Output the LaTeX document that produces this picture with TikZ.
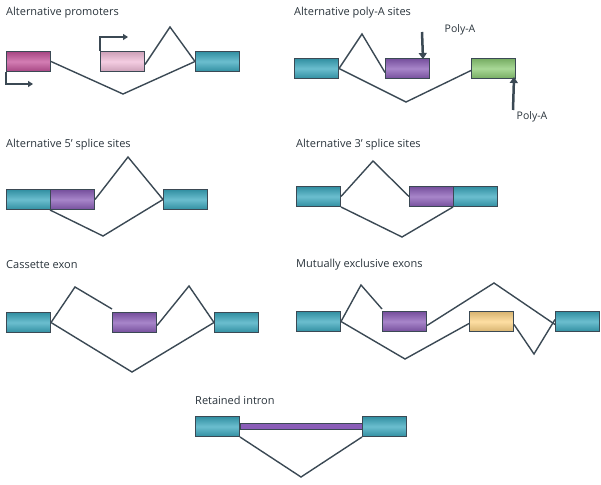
\documentclass[tikz,border=0pt]{standalone}
\usepackage{fontspec}
\setmainfont{Open Sans}
\usetikzlibrary{arrows.meta}
\definecolor{teal}{HTML}{3AA8BE}
\definecolor{mag}{HTML}{C4529A}
\definecolor{lpink}{HTML}{F0BCD8}
\definecolor{purp}{HTML}{8A5DB8}
\definecolor{grn}{HTML}{8CCB74}
\definecolor{yel}{HTML}{FDD384}
\definecolor{ln}{HTML}{3B4954}
\begin{document}
\begin{tikzpicture}[x=1pt,y=-1pt,
  box/.style={draw=ln,line width=1pt,minimum width=44pt,minimum height=20pt,inner sep=0pt,anchor=north west,
    top color=#1!85!black,bottom color=#1!85!black,middle color=#1!75!white},
  link/.style={draw=ln,line width=1.4pt,line join=miter},
  ttl/.style={anchor=west,font=\fontsize{11}{13}\selectfont,text=ln!70!black,inner sep=0pt},
  lab/.style={font=\fontsize{10.5}{12}\selectfont,text=ln!70!black,inner sep=0pt},
  arr/.style={draw=ln,line width=1.4pt,-{Triangle[length=5pt,width=6pt]}},
  fat/.style={draw=ln,line width=2.5pt,-{Triangle[length=6pt,width=8pt]}}]
\useasboundingbox (0,0) rectangle (601,484);
% Panel 1
\node[ttl] (t1) at (6,13) {Alternative promoters};
\node[box=mag] (a1) at (6,51) {};
\node[box=lpink] (a2) at (100,51) {};
\node[box=teal] (a3) at (195,51) {};
\coordinate (a1b) at (123,94);
\coordinate (a1p) at (170,27);
\draw[link] (a1.east) -- (a1b) -- (a3.west);
\draw[link] ([yshift=-3pt]a2.east) -- (a1p) -- (a3.west);
\coordinate (pr1) at (128,37);
\coordinate (pr2) at (33,84);
\draw[arr] (a2.north west) |- (pr1);
\draw[arr] (a1.south west) |- (pr2);
% Panel 2
\node[ttl] (t2) at (294,13) {Alternative poly-A sites};
\node[box=teal] (b1) at (294,58) {};
\node[box=purp] (b2) at (385,58) {};
\node[box=grn] (b3) at (471,58) {};
\coordinate (b1p) at (362,34);
\coordinate (b1b) at (406,102);
\draw[link] (b1.east) -- (b1p) -- ([yshift=-4pt]b2.west);
\draw[link] (b1.east) -- (b1b) -- ([yshift=-2pt]b3.west);
\node[lab] (pa1) at (460,30) {Poly-A};
\node[lab] (pa2) at (532,117) {Poly-A};
\coordinate (pa1s) at (422,32);
\coordinate (pa2s) at (513,110);
\draw[fat] (pa1s) -- ([xshift=-7pt,yshift=-1pt]b2.north east);
\draw[fat] (pa2s) -- ([xshift=-2pt,yshift=2pt]b3.south east);
% Panel 3
\node[ttl] (t3) at (6,145) {Alternative 5\textquoteright\ splice sites};
\node[box=teal] (c1) at (6,189) {};
\node[box=purp] (c2) at (50,189) {};
\node[box=teal] (c3) at (163,189) {};
\coordinate (c1p) at (128,157);
\coordinate (c1b) at (103,236);
\draw[link] (c2.east) -- (c1p) -- (c3.west);
\draw[link] (c2.south west) -- (c1b) -- (c3.west);
% Panel 4
\node[ttl] (t4) at (296,145) {Alternative 3\textquoteright\ splice sites};
\node[box=teal] (d1) at (296,186) {};
\node[box=purp] (d2) at (409,186) {};
\node[box=teal] (d3) at (453,186) {};
\coordinate (d1p) at (373,161);
\coordinate (d1b) at (402,237);
\draw[link] (d1.east) -- (d1p) -- (d2.west);
\draw[link] (d1.south east) -- (d1b) -- (d3.south west);
% Panel 5
\node[ttl] (t5) at (6,265) {Cassette exon};
\node[box=teal] (e1) at (6,312) {};
\node[box=purp] (e2) at (112,312) {};
\node[box=teal] (e3) at (214,312) {};
\coordinate (e1p) at (75,287);
\coordinate (e2p) at (189,286);
\coordinate (e1b) at (132,372);
\draw[link] (e1.east) -- (e1p) -- ([yshift=3pt]e2.north west);
\draw[link] ([yshift=-3pt]e2.east) -- (e2p) -- (e3.west);
\draw[link] (e1.east) -- (e1b) -- (e3.west);
% Panel 6
\node[ttl] (t6) at (296,265) {Mutually exclusive exons};
\node[box=teal] (f1) at (296,311) {};
\node[box=purp] (f2) at (382,311) {};
\node[box=yel] (f3) at (469,311) {};
\node[box=teal] (f4) at (555,311) {};
\coordinate (f1p) at (361,285);
\coordinate (f2p) at (494,283);
\coordinate (f1b) at (405,359);
\coordinate (f3b) at (534,354);
\draw[link] (f1.east) -- (f1p) -- ([yshift=2pt]f2.north west);
\draw[link] ([yshift=-4pt]f2.east) -- (f2p) -- ([yshift=-3pt]f4.west);
\draw[link] (f1.east) -- (f1b) -- ([yshift=-2pt]f3.west);
\draw[link] ([yshift=-3pt]f3.east) -- (f3b) -- ([yshift=2pt]f4.west);
% Panel 7
\node[ttl] (t7) at (195,400) {Retained intron};
\node[box=teal] (g1) at (195,416) {};
\node[box=teal] (g2) at (362,416) {};
\coordinate (g1b) at (301,477);
\draw[draw=ln,line width=0.8pt,fill=purp] ([yshift=-3pt]g1.east) rectangle ([yshift=3pt]g2.west);
\draw[link] (g1.south east) -- (g1b) -- (g2.south west);
\end{tikzpicture}
\end{document}
